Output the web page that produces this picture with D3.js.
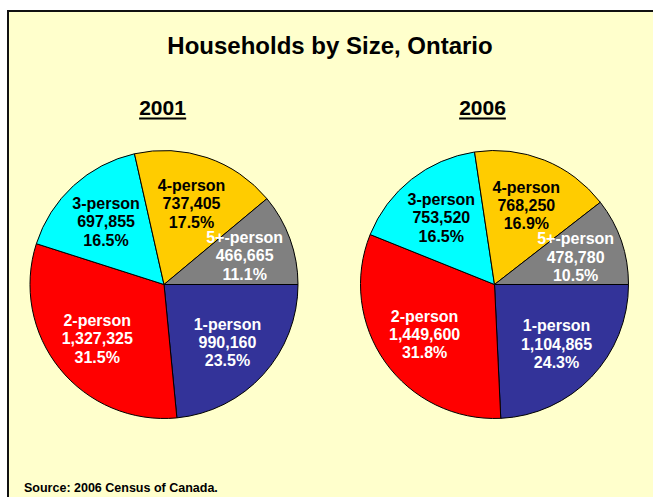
<!DOCTYPE html>
<html>
<head>
<meta charset="utf-8">
<script src="https://cdn.jsdelivr.net/npm/d3@7"></script>
<style>
  body { margin: 0; background: #fff; }
  text { font-family: "Liberation Sans", Arial, sans-serif; font-weight: bold; }
</style>
</head>
<body>
<div id="chart-area"></div>
<script>
// data
const categories = ['1-person', '2-person', '3-person', '4-person', '5+-person'];
const years = ['2001', '2006'];
const households2001 = [990160, 1327325, 697855, 737405, 466665];
const households2006 = [1104865, 1449600, 753520, 768250, 478780];

const colors = ['#333399', '#FF0000', '#00FFFF', '#FFCC00', '#808080'];
const textColors = ['#fff', '#fff', '#000', '#000', '#fff'];

const width = 653, height = 497;
const radius = 134;
const pieCenters = [{x: 164, y: 284.5}, {x: 494.5, y: 284.5}];
const yearX = [162.5, 482.5];

const svg = d3.select('#chart-area')
  .append('svg')
  .attr('width', width)
  .attr('height', height);

// frame
svg.append('rect')
  .attr('x', 8)
  .attr('y', 11)
  .attr('width', width + 20)
  .attr('height', height + 20)
  .attr('fill', '#FFFFCC')
  .attr('stroke', '#111')
  .attr('stroke-width', 2);

// title
svg.append('text')
  .attr('x', 330)
  .attr('y', 54)
  .attr('text-anchor', 'middle')
  .attr('font-size', '24px')
  .text('Households by Size, Ontario');

svg.append('text')
  .attr('x', 24)
  .attr('y', 492)
  .attr('font-size', '12.5px')
  .text('Source: 2006 Census of Canada.');

const pie = d3.pie().sort(null)
  .startAngle(Math.PI / 2)
  .endAngle(Math.PI / 2 + 2 * Math.PI);
const arc = d3.arc().innerRadius(0).outerRadius(radius);
const labelArc = d3.arc().innerRadius(radius * 0.64).outerRadius(radius * 0.64);
const fmtNum = d3.format(',');
const fmtPct = d3.format('.1f');

[households2001, households2006].forEach((values, i) => {
  // year heading
  const yr = svg.append('text')
    .attr('x', yearX[i])
    .attr('y', 115)
    .attr('text-anchor', 'middle')
    .attr('font-size', '21px')
    .text(years[i]);
  const bb = yr.node().getBBox();
  svg.append('line')
    .attr('x1', bb.x).attr('x2', bb.x + bb.width)
    .attr('y1', 118.5).attr('y2', 118.5)
    .attr('stroke', '#000')
    .attr('stroke-width', 2);

  const total = d3.sum(values);
  const arcs = pie(values);
  const g = svg.append('g')
    .attr('transform', `translate(${pieCenters[i].x}, ${pieCenters[i].y})`);

  g.selectAll('path')
    .data(arcs)
    .enter()
    .append('path')
    .attr('d', arc)
    .attr('fill', (d, j) => colors[j])
    .attr('stroke', '#000')
    .attr('stroke-width', 1);

  const labels = g.selectAll('text.lbl')
    .data(arcs)
    .enter()
    .append('text')
    .attr('class', 'lbl')
    .attr('text-anchor', 'middle')
    .attr('font-size', '16px')
    .attr('fill', (d, j) => textColors[j])
    .attr('transform', d => `translate(${labelArc.centroid(d)})`);

  labels.each(function(d, j) {
    const lines = [categories[j], fmtNum(d.value), fmtPct(d.value / total * 100) + '%'];
    d3.select(this).selectAll('tspan')
      .data(lines)
      .enter()
      .append('tspan')
      .attr('x', 0)
      .attr('y', (l, k) => (k - 1) * 18.3 + 6)
      .text(l => l);
  });
});
</script>
</body>
</html>
